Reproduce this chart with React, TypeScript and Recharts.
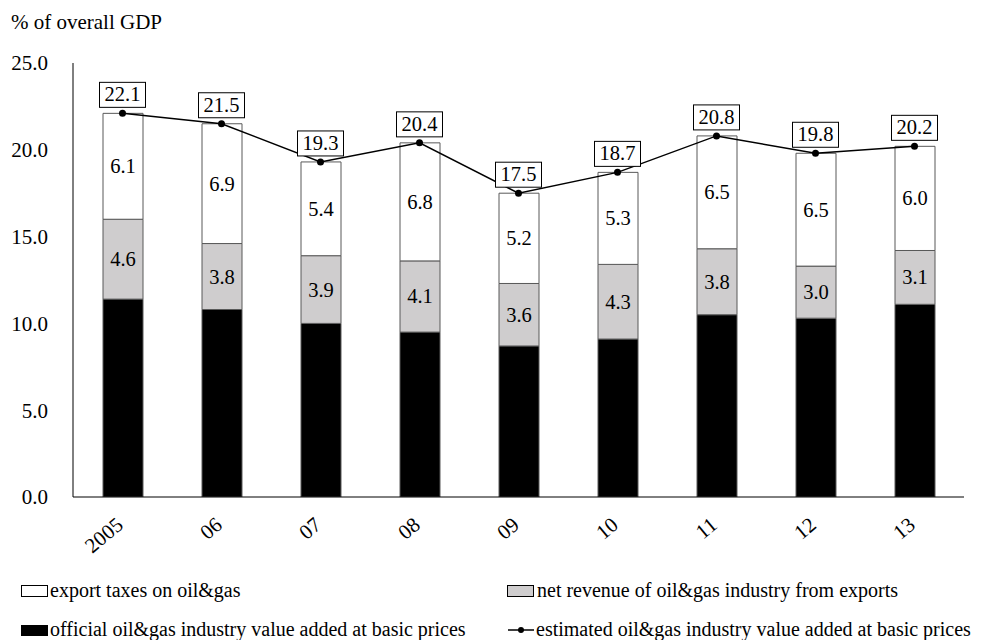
import React from "react";
import {
  ComposedChart,
  Bar,
  Line,
  XAxis,
  YAxis,
  LabelList,
} from "recharts";

const categories = ["2005", "06", "07", "08", "09", "10", "11", "12", "13"];
const officialValues = [11.4, 10.8, 10.0, 9.5, 8.7, 9.1, 10.5, 10.3, 11.1];
const netRevenueValues = [4.6, 3.8, 3.9, 4.1, 3.6, 4.3, 3.8, 3.0, 3.1];
const exportTaxValues = [6.1, 6.9, 5.4, 6.8, 5.2, 5.3, 6.5, 6.5, 6.0];
const estimatedTotals = [22.1, 21.5, 19.3, 20.4, 17.5, 18.7, 20.8, 19.8, 20.2];
const yTicks = [0, 5, 10, 15, 20, 25];

const seriesNames = {
  exportTax: "export taxes on oil&gas",
  netRevenue: "net revenue of oil&gas industry from exports",
  official: "official oil&gas industry value added at basic prices",
  estimated: "estimated oil&gas industry value added at basic prices",
};

const data = categories.map((c, i) => ({
  year: c,
  official: officialValues[i],
  netRevenue: netRevenueValues[i],
  exportTax: exportTaxValues[i],
  total: estimatedTotals[i],
}));

const FONT = "'Liberation Serif', 'Times New Roman', serif";
const FS = 20.5;
const FS_LEGEND = 20;
const FS_AXIS = 21;
const GRAY = "#cfcdce";
const EDGE = "#595959";

const XTick = (props: any) => {
  const { x, y, payload } = props;
  const ax = x + 2;
  const ay = y + 30;
  return (
    <text
      x={ax}
      y={ay}
      textAnchor="end"
      transform={`rotate(-40, ${ax}, ${ay})`}
      fontFamily={FONT}
      fontSize={FS_AXIS}
      fill="#000"
    >
      {payload.value}
    </text>
  );
};

const BoxLabel = (props: any) => {
  const { x, y, value } = props;
  if (x == null || y == null) return null;
  const w = 46;
  const h = 25;
  const bottom = y - 6;
  return (
    <g>
      <rect
        x={x - w / 2}
        y={bottom - h}
        width={w}
        height={h}
        fill="#fff"
        stroke="#000"
        strokeWidth={1}
      />
      <text
        x={x}
        y={bottom - 6}
        textAnchor="middle"
        fontFamily={FONT}
        fontSize={FS}
        fill="#000"
      >
        {Number(value).toFixed(1)}
      </text>
    </g>
  );
};

const InnerLabel = (props: any) => {
  const { x, y, width, height, value } = props;
  if (x == null) return null;
  return (
    <text
      x={x + width / 2}
      y={y + height / 2 + 7}
      textAnchor="middle"
      fontFamily={FONT}
      fontSize={FS}
      fill="#000"
    >
      {Number(value).toFixed(1)}
    </text>
  );
};

const Overlay = () => (
  <svg
    width={966}
    height={632}
    style={{ position: "absolute", left: 0, top: 0, pointerEvents: "none", overflow: "visible" }}
  >
    <text x={3} y={21} fontFamily={FONT} fontSize={FS_AXIS} fill="#000">
      % of overall GDP
    </text>
    {/* legend row 1 */}
    <rect x={13.5} y={577.5} width={26} height={11} fill="#fff" stroke="#000" strokeWidth={1} />
    <text x={42} y={589} fontFamily={FONT} fontSize={FS_LEGEND} fill="#000">
      {seriesNames.exportTax}
    </text>
    <rect x={499.5} y={577.5} width={26} height={11} fill={GRAY} stroke="#000" strokeWidth={1} />
    <text x={529} y={589} fontFamily={FONT} fontSize={FS_LEGEND} fill="#000">
      {seriesNames.netRevenue}
    </text>
    {/* legend row 2 */}
    <rect x={13} y={617} width={27} height={11} fill="#000" />
    <text x={42} y={628} fontFamily={FONT} fontSize={FS_LEGEND} fill="#000">
      {seriesNames.official}
    </text>
    <line x1={500} y1={622} x2={526} y2={622} stroke="#000" strokeWidth={1.5} />
    <circle cx={513} cy={622} r={3} fill="#000" />
    <text x={528} y={628} fontFamily={FONT} fontSize={FS_LEGEND} fill="#000">
      {seriesNames.estimated}
    </text>
  </svg>
);

export default function App() {
  return (
    <div style={{ position: "relative", width: 966, height: 632 }}>
      <ComposedChart
        width={966}
        height={632}
        data={data}
        margin={{ top: 55, right: 10, left: 0, bottom: 103 }}
        barCategoryGap={0}
      >
        <XAxis
          dataKey="year"
          height={40}
          axisLine={{ stroke: "#000", strokeWidth: 1 }}
          tickLine={false}
          tickSize={0}
          tickMargin={0}
          interval={0}
          tick={<XTick />}
        />
        <YAxis
          width={65}
          domain={[0, 25]}
          ticks={yTicks}
          allowDataOverflow
          axisLine={{ stroke: "#000", strokeWidth: 1 }}
          tickLine={false}
          tickSize={0}
          tickMargin={25}
          tickFormatter={(v: number) => v.toFixed(1)}
          tick={{ fontFamily: FONT, fontSize: FS_AXIS, fill: "#000" }}
        />
        <Bar
          dataKey="official"
          name={seriesNames.official}
          stackId="a"
          fill="#000"
          stroke={EDGE}
          strokeWidth={1}
          barSize={40}
          isAnimationActive={false}
        />
        <Bar
          dataKey="netRevenue"
          name={seriesNames.netRevenue}
          stackId="a"
          fill={GRAY}
          stroke={EDGE}
          strokeWidth={1}
          barSize={40}
          isAnimationActive={false}
        >
          <LabelList dataKey="netRevenue" content={<InnerLabel />} />
        </Bar>
        <Bar
          dataKey="exportTax"
          name={seriesNames.exportTax}
          stackId="a"
          fill="#fff"
          stroke={EDGE}
          strokeWidth={1}
          barSize={40}
          isAnimationActive={false}
        >
          <LabelList dataKey="exportTax" content={<InnerLabel />} />
        </Bar>
        <Line
          dataKey="total"
          name={seriesNames.estimated}
          type="linear"
          stroke="#000"
          strokeWidth={1.5}
          dot={{ r: 3.5, fill: "#000", stroke: "#000", strokeWidth: 0 }}
          activeDot={false}
          isAnimationActive={false}
        >
          <LabelList dataKey="total" content={<BoxLabel />} />
        </Line>
      </ComposedChart>
      <Overlay />
    </div>
  );
}
